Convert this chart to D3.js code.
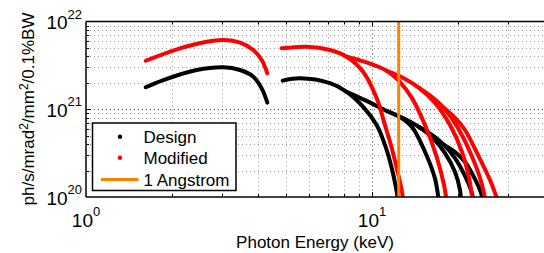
<!DOCTYPE html>
<html><head><meta charset="utf-8">
<script src="https://cdn.jsdelivr.net/npm/d3@7"></script>
<style>
body{margin:0;background:#fff;}
svg{display:block;font-family:"Liberation Sans",Arial,Helvetica,sans-serif;}
</style></head>
<body><svg id="c" width="544" height="253"></svg>
<script>
// ---- data (photon energy keV, brightness) ----
const designH1 = [[1.617,1.78e21],[1.864,2.15e21],[2.438,2.80e21],[3.02,3.01e21],[3.456,2.80e21],[3.846,2.35e21],[4.115,1.73e21],[4.305,1.19e21]];
const designH3 = [[4.873,2.12e21],[5.602,2.25e21],[7.13,1.98e21],[8.155,1.58e21],[9.30,1.07e21],[10.38,6.6e20],[11.1,3.92e20],[11.72,2.14e20],[12.2,1.15e20],[12.33,0.92e20]];
const designH5 = [[8.155,1.58e21],[9.45,1.27e21],[11.28,9.55e20],[12.53,8.16e20],[13.80,6.28e20],[15.32,3.28e20],[16.6,1.63e20],[17.05,1.01e20],[17.15,0.91e20]];
const designH7 = [[11.28,9.55e20],[13.05,7.74e20],[14.60,6.28e20],[16.21,4.83e20],[18.0,3.17e20],[19.51,1.93e20],[20.31,1.20e20],[20.47,0.92e20]];
const designH9 = [[14.60,6.28e20],[16.21,5.09e20],[17.86,3.92e20],[19.51,2.78e20],[21.14,1.74e20],[22.19,1.20e20],[22.64,0.92e20]];
const designH11 = [[17.86,3.92e20],[19.51,3.26e20],[21.14,2.51e20],[22.92,1.60e20],[24.05,1.11e20],[24.34,0.92e20]];

const modH1 = [[1.617,3.57e21],[2.13,4.95e21],[2.642,5.89e21],[3.02,6.15e21],[3.456,5.73e21],[3.846,4.73e21],[4.115,3.64e21],[4.305,2.57e21]];
const modH3 = [[4.834,4.95e21],[5.91,5.16e21],[7.13,4.73e21],[8.155,3.97e21],[9.32,2.66e21],[10.38,1.34e21],[11.1,6.6e20],[11.72,3.62e20],[12.2,2.14e20],[12.70,1.20e20],[12.84,0.92e20]];
const modH5 = [[8.155,3.97e21],[9.45,3.46e21],[11.28,2.73e21],[12.53,2.04e21],[13.80,1.34e21],[15.32,6.6e20],[16.88,2.78e20],[17.86,1.37e20],[18.22,0.92e20]];
const modH7 = [[11.28,2.73e21],[13.05,2.21e21],[14.60,1.75e21],[16.61,1.18e21],[18.74,6.6e20],[20.64,3.26e20],[21.84,1.65e20],[22.46,0.92e20]];
const modH9 = [[14.60,1.75e21],[16.21,1.38e21],[17.86,1.03e21],[19.98,6.11e20],[22.01,3.26e20],[23.86,1.65e20],[24.94,0.92e20]];
const modH11 = [[17.86,1.03e21],[19.51,7.95e20],[21.14,5.80e20],[23.48,3.01e20],[25.86,1.56e20],[27.48,0.92e20]];

const angstromE = 12.398;
const xTickVals = [1, 10];
const xTickExp = ["0", "1"];
const yTickVals = [1e20, 1e21, 1e22];
const yTickExp = ["20", "21", "22"];
const legendLabels = ["Design", "Modified", "1 Angstrom"];

const designSeries = [designH1, designH3, designH5, designH7, designH9, designH11];
const modSeries = [modH1, modH3, modH5, modH7, modH9, modH11];

// ---- layout ----
const svg = d3.select("#c");
const L = 86, T = 21.5, B = 197;
const x = d3.scaleLog().domain([1, 50]).range([L, L + 286 * Math.log10(50)]);
const y = d3.scaleLog().domain([1e20, 1e22]).range([B, T]);
const R = 548;

svg.append("defs").append("clipPath").attr("id", "clip")
  .append("rect").attr("x", L).attr("y", T).attr("width", R - L).attr("height", B - T);

// grid
const g = svg.append("g");
const xMinor = [], yMinor = [];
for (let d = 1; d <= 10; d *= 10) for (let k = 2; k <= 9; k++) if (k * d < 50) xMinor.push(k * d);
for (let d = 1e20; d < 1e22; d *= 10) for (let k = 2; k <= 9; k++) yMinor.push(k * d);
const uniqX = Array.from(new Set(xMinor)).filter(v => v !== 10);

g.selectAll(".xm").data(uniqX).join("line")
  .attr("x1", d => Math.round(x(d)) + 0.5).attr("x2", d => Math.round(x(d)) + 0.5)
  .attr("y1", T).attr("y2", B)
  .attr("stroke", "#999").attr("stroke-width", 1).attr("stroke-dasharray", "1,3");
g.selectAll(".ym").data(yMinor).join("line")
  .attr("x1", L).attr("x2", R)
  .attr("y1", d => Math.round(y(d)) + 0.5).attr("y2", d => Math.round(y(d)) + 0.5)
  .attr("stroke", "#999").attr("stroke-width", 1).attr("stroke-dasharray", "1,3");
g.selectAll(".xM").data([10]).join("line")
  .attr("x1", d => Math.round(x(d)) + 0.5).attr("x2", d => Math.round(x(d)) + 0.5)
  .attr("y1", T).attr("y2", B)
  .attr("stroke", "#444").attr("stroke-width", 1).attr("stroke-dasharray", "1,3");
g.selectAll(".yM").data([1e21]).join("line")
  .attr("x1", L).attr("x2", R)
  .attr("y1", d => Math.round(y(d)) + 0.5).attr("y2", d => Math.round(y(d)) + 0.5)
  .attr("stroke", "#444").attr("stroke-width", 1).attr("stroke-dasharray", "1,3");

// ticks (inward)
const tk = svg.append("g").attr("stroke", "#000").attr("stroke-width", 1);
[...uniqX, 10].forEach(v => {
  const len = v === 10 ? 5 : 3;
  const px = Math.round(x(v)) + 0.5;
  tk.append("line").attr("x1", px).attr("x2", px).attr("y1", B).attr("y2", B - len);
  tk.append("line").attr("x1", px).attr("x2", px).attr("y1", T).attr("y2", T + len);
});
[...yMinor, 1e21].forEach(v => {
  const len = v === 1e21 ? 5 : 3;
  const py = Math.round(y(v)) + 0.5;
  tk.append("line").attr("x1", L).attr("x2", L + len).attr("y1", py).attr("y2", py);
});

// curves
const line = d3.line().x(d => x(d[0])).y(d => y(d[1])).curve(d3.curveCatmullRom.alpha(0.5));
const cg = svg.append("g").attr("clip-path", "url(#clip)");
cg.selectAll(".d").data(designSeries).join("path")
  .attr("d", line).attr("fill", "none").attr("stroke", "#000")
  .attr("stroke-width", 4).attr("stroke-linecap", "round").attr("stroke-linejoin", "round");
cg.selectAll(".m").data(modSeries).join("path")
  .attr("d", line).attr("fill", "none").attr("stroke", "#ff0000")
  .attr("stroke-width", 4).attr("stroke-linecap", "round").attr("stroke-linejoin", "round");
cg.append("line")
  .attr("x1", x(angstromE)).attr("x2", x(angstromE))
  .attr("y1", y(1e20)).attr("y2", y(1e22))
  .attr("stroke", "#ff8000").attr("stroke-width", 3);

// frame
svg.append("line").attr("x1", L).attr("x2", R).attr("y1", T).attr("y2", T).attr("stroke", "#000").attr("stroke-width", 1.5);
svg.append("line").attr("x1", L).attr("x2", R).attr("y1", B).attr("y2", B).attr("stroke", "#000").attr("stroke-width", 1.5);
svg.append("line").attr("x1", L).attr("x2", L).attr("y1", T).attr("y2", B).attr("stroke", "#000").attr("stroke-width", 1.5);

// tick labels
yTickVals.forEach((v, i) => {
  const t = svg.append("text").attr("x", 82).attr("y", y(v) + 7.5)
    .attr("text-anchor", "end").attr("font-size", 19).attr("fill", "#000");
  t.append("tspan").text("10");
  t.append("tspan").attr("dy", -10.5).attr("font-size", 13).text(yTickExp[i]);
});
xTickVals.forEach((v, i) => {
  const t = svg.append("text").attr("x", x(v)).attr("y", 226.5)
    .attr("text-anchor", "middle").attr("font-size", 19).attr("fill", "#000");
  t.append("tspan").text("10");
  t.append("tspan").attr("dy", -10.5).attr("font-size", 13).text(xTickExp[i]);
});

// axis labels
svg.append("text").attr("x", 315).attr("y", 247.5).attr("text-anchor", "middle")
  .attr("font-size", 17).text("Photon Energy (keV)");
const yl = svg.append("text").attr("transform", "translate(34,109) rotate(-90)")
  .attr("text-anchor", "middle").attr("font-size", 17);
yl.append("tspan").text("ph/s/mrad");
yl.append("tspan").attr("dy", -6).attr("font-size", 12).text("2");
yl.append("tspan").attr("dy", 6).text("/mm");
yl.append("tspan").attr("dy", -6).attr("font-size", 12).text("2");
yl.append("tspan").attr("dy", 6).text("/0.1%BW");

// legend
const lg = svg.append("g");
lg.append("rect").attr("x", 92.5).attr("y", 123).attr("width", 143.5).attr("height", 67.5)
  .attr("fill", "#fff").attr("stroke", "#000").attr("stroke-width", 1.5);
const ly = [136.7, 157.7, 179.5];
lg.append("circle").attr("cx", 120).attr("cy", ly[0]).attr("r", 2.2).attr("fill", "#000");
lg.append("circle").attr("cx", 120).attr("cy", ly[1]).attr("r", 2.2).attr("fill", "#ff0000");
lg.append("line").attr("x1", 101).attr("x2", 138.5).attr("y1", ly[2]).attr("y2", ly[2])
  .attr("stroke", "#ff8000").attr("stroke-width", 3);
legendLabels.forEach((s, i) => {
  lg.append("text").attr("x", 143.5).attr("y", ly[i] + 6).attr("font-size", 17).text(s);
});
</script></body></html>
